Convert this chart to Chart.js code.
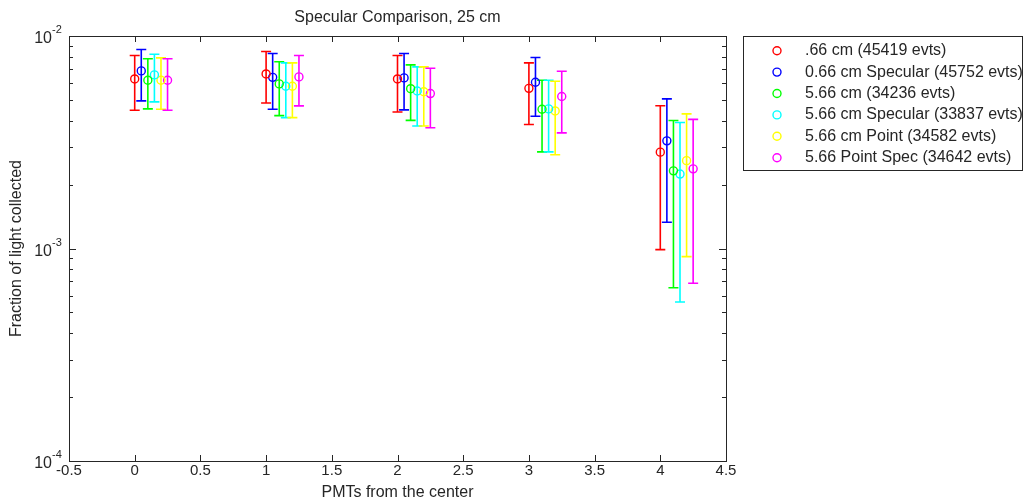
<!DOCTYPE html>
<html>
<head>
<meta charset="utf-8">
<script src="https://cdn.jsdelivr.net/npm/chart.js@4.4.0/dist/chart.umd.min.js"></script>
<style>
  html, body { margin: 0; padding: 0; background: #fff; }
  #wrap { position: relative; width: 1024px; height: 503px; }
</style>
</head>
<body>
<div id="wrap"><canvas id="chart" width="1024" height="503"></canvas></div>
<script>
// PMT index from the centre, each run nudged sideways so the bars don't overlap
const pmtDistance = [0, 1, 2, 3, 4];
const runOffsets = [0, 0.05, 0.1, 0.15, 0.2, 0.25];

const runLabels = [
  ".66 cm (45419 evts)",
  "0.66 cm Specular (45752 evts)",
  "5.66 cm (34236 evts)",
  "5.66 cm Specular (33837 evts)",
  "5.66 cm Point (34582 evts)",
  "5.66 Point Spec (34642 evts)"
];
const runColors = ["#ff0000", "#0000ff", "#00ff00", "#00ffff", "#ffff00", "#ff00ff"];

// fraction of light collected, with lower / upper error bar ends
const frac066 = [6.28e-3, 6.63e-3, 6.28e-3, 5.67e-3, 2.84e-3];
const frac066Lo = [4.47e-3, 4.84e-3, 4.39e-3, 3.83e-3, 9.88e-4];
const frac066Hi = [8.09e-3, 8.45e-3, 8.09e-3, 7.47e-3, 4.70e-3];

const frac066Spec = [6.85e-3, 6.39e-3, 6.35e-3, 6.06e-3, 3.21e-3];
const frac066SpecLo = [4.95e-3, 4.52e-3, 4.49e-3, 4.19e-3, 1.33e-3];
const frac066SpecHi = [8.64e-3, 8.27e-3, 8.27e-3, 7.92e-3, 5.06e-3];

const frac566 = [6.19e-3, 5.95e-3, 5.65e-3, 4.52e-3, 2.32e-3];
const frac566Lo = [4.54e-3, 4.22e-3, 4.01e-3, 2.85e-3, 6.54e-4];
const frac566Hi = [7.81e-3, 7.56e-3, 7.31e-3, 6.19e-3, 4.00e-3];

const frac566Spec = [6.56e-3, 5.80e-3, 5.51e-3, 4.54e-3, 2.24e-3];
const frac566SpecLo = [4.90e-3, 4.13e-3, 3.77e-3, 2.85e-3, 5.60e-4];
const frac566SpecHi = [8.21e-3, 7.47e-3, 7.16e-3, 6.19e-3, 3.92e-3];

const frac566Point = [6.19e-3, 5.80e-3, 5.47e-3, 4.44e-3, 2.59e-3];
const frac566PointLo = [4.52e-3, 4.13e-3, 3.77e-3, 2.76e-3, 9.16e-4];
const frac566PointHi = [7.89e-3, 7.47e-3, 7.16e-3, 6.12e-3, 4.30e-3];

const frac566PointSpec = [6.19e-3, 6.42e-3, 5.36e-3, 5.19e-3, 2.37e-3];
const frac566PointSpecLo = [4.47e-3, 4.69e-3, 3.70e-3, 3.50e-3, 6.86e-4];
const frac566PointSpecHi = [7.81e-3, 8.09e-3, 7.05e-3, 6.82e-3, 4.05e-3];

const xTicks = [-0.5, 0, 0.5, 1, 1.5, 2, 2.5, 3, 3.5, 4, 4.5];
const yDecades = [-4, -3, -2];

const runs = [
  [frac066, frac066Lo, frac066Hi],
  [frac066Spec, frac066SpecLo, frac066SpecHi],
  [frac566, frac566Lo, frac566Hi],
  [frac566Spec, frac566SpecLo, frac566SpecHi],
  [frac566Point, frac566PointLo, frac566PointHi],
  [frac566PointSpec, frac566PointSpecLo, frac566PointSpecHi]
];

const FONT = "Liberation Sans, Arial, Helvetica, sans-serif";
const INK = "#262626";

const datasets = runs.map((r, i) => ({
  label: runLabels[i],
  data: pmtDistance.map((d, j) => ({ x: d + runOffsets[i], y: r[0][j], lo: r[1][j], hi: r[2][j] })),
  borderColor: runColors[i],
  backgroundColor: "rgba(0,0,0,0)",
  pointRadius: 4,
  pointBorderWidth: 1.4,
  showLine: false
}));

// vertical error bars with little caps, drawn under the circles
const errorBars = {
  id: "errorBars",
  beforeDatasetsDraw(chart) {
    const { ctx, scales: { x, y } } = chart;
    ctx.save();
    ctx.lineWidth = 1.6;
    chart.data.datasets.forEach((ds, i) => {
      ctx.strokeStyle = runColors[i];
      ds.data.forEach(p => {
        const px = x.getPixelForValue(p.x);
        const top = y.getPixelForValue(p.hi);
        const bot = y.getPixelForValue(p.lo);
        ctx.beginPath();
        ctx.moveTo(px, top); ctx.lineTo(px, bot);
        ctx.moveTo(px - 5, top); ctx.lineTo(px + 5, top);
        ctx.moveTo(px - 5, bot); ctx.lineTo(px + 5, bot);
        ctx.stroke();
      });
    });
    ctx.restore();
  }
};

// box, inward ticks, tick labels, titles and the legend
const axesFrame = {
  id: "axesFrame",
  afterDraw(chart) {
    const { ctx, chartArea: a, scales: { x, y } } = chart;
    ctx.save();
    ctx.strokeStyle = INK;
    ctx.fillStyle = INK;
    ctx.lineWidth = 1;
    ctx.strokeRect(a.left + 0.5, a.top + 0.5, a.right - a.left, a.bottom - a.top);

    ctx.beginPath();
    xTicks.forEach(t => {
      const px = Math.round(x.getPixelForValue(t)) + 0.5;
      ctx.moveTo(px, a.bottom); ctx.lineTo(px, a.bottom - 6);
      ctx.moveTo(px, a.top); ctx.lineTo(px, a.top + 6);
    });
    yDecades.forEach(e => {
      for (let m = 1; m <= 9; m++) {
        if (e === -2 && m > 1) break;
        const py = Math.round(y.getPixelForValue(m * Math.pow(10, e))) + 0.5;
        const len = m === 1 ? 7 : 4;
        ctx.moveTo(a.left, py); ctx.lineTo(a.left + len, py);
        ctx.moveTo(a.right, py); ctx.lineTo(a.right - len, py);
      }
    });
    ctx.stroke();

    ctx.font = "15px " + FONT;
    ctx.textAlign = "center";
    ctx.textBaseline = "middle";
    xTicks.forEach(t => {
      ctx.fillText(String(t), x.getPixelForValue(t), a.bottom + 10);
    });

    yDecades.forEach(e => {
      const py = y.getPixelForValue(Math.pow(10, e));
      ctx.font = "16px " + FONT;
      ctx.textAlign = "right";
      ctx.fillText("10", a.left - 17, py + 3);
      ctx.font = "11px " + FONT;
      ctx.textAlign = "left";
      ctx.fillText(String(e), a.left - 17, py - 6);
    });

    ctx.font = "16px " + FONT;
    ctx.textAlign = "center";
    ctx.fillText("Specular Comparison, 25 cm", (a.left + a.right) / 2, 18);
    ctx.fillText("PMTs from the center", (a.left + a.right) / 2, 493);

    ctx.save();
    ctx.translate(17, (a.top + a.bottom) / 2);
    ctx.rotate(-Math.PI / 2);
    ctx.fillText("Fraction of light collected", 0, 0);
    ctx.restore();

    // legend box, text clipped at its right edge
    const lx = 743, ly = 36, lw = 279, lh = 134;
    ctx.fillStyle = "#fff";
    ctx.fillRect(lx, ly, lw, lh);
    ctx.strokeStyle = INK;
    ctx.strokeRect(lx + 0.5, ly + 0.5, lw, lh);
    ctx.save();
    ctx.beginPath();
    ctx.rect(lx, ly, lw, lh);
    ctx.clip();
    ctx.font = "16px " + FONT;
    ctx.textAlign = "left";
    ctx.lineWidth = 1.4;
    runLabels.forEach((lab, i) => {
      const ry = 50.7 + i * 21.4;
      ctx.strokeStyle = runColors[i];
      ctx.beginPath();
      ctx.arc(777, ry, 4, 0, Math.PI * 2);
      ctx.stroke();
      ctx.fillStyle = INK;
      ctx.fillText(lab, 805, ry);
    });
    ctx.restore();
    ctx.restore();
  }
};

new Chart(document.getElementById("chart"), {
  type: "scatter",
  data: { datasets },
  options: {
    responsive: false,
    animation: false,
    layout: { padding: { left: 69, right: 298, top: 36, bottom: 42 } },
    scales: {
      x: { type: "linear", min: -0.5, max: 4.5, display: false },
      y: { type: "logarithmic", min: 1e-4, max: 1e-2, display: false }
    },
    plugins: { legend: { display: false }, tooltip: { enabled: false } }
  },
  plugins: [errorBars, axesFrame]
});
</script>
</body>
</html>
